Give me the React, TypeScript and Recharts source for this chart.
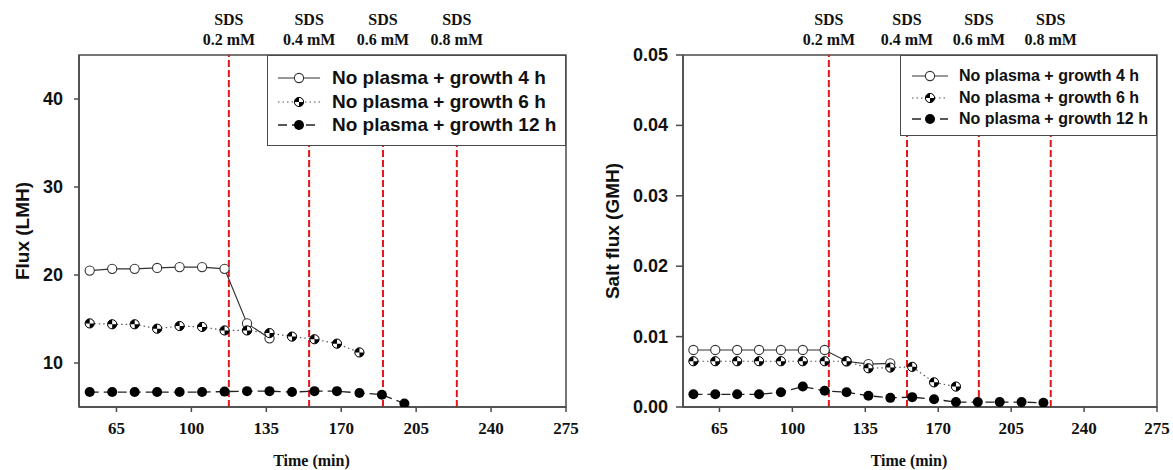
import React from "react";
import { LineChart, Line, XAxis, YAxis, ReferenceLine, ReferenceArea, Legend, Label } from "recharts";

// sampling times (min), shared by both panels
const times = [52.5, 63, 73.5, 84, 94.5, 105, 115.5, 126, 136.5, 147, 157.5, 168, 178.5, 189, 199.5, 210, 220.5];

// water flux (LMH)
const flux4h = [20.5, 20.7, 20.7, 20.8, 20.9, 20.9, 20.7, 14.5, 12.8];
const flux6h = [14.5, 14.4, 14.4, 13.9, 14.2, 14.1, 13.7, 13.7, 13.4, 13.0, 12.7, 12.2, 11.2];
const flux12h = [6.7, 6.7, 6.7, 6.7, 6.7, 6.7, 6.75, 6.8, 6.8, 6.7, 6.8, 6.8, 6.6, 6.4, 5.4, 3.8];

// salt flux (GMH)
const salt4h = [0.0081, 0.0081, 0.0081, 0.0081, 0.0081, 0.0081, 0.0081, 0.0065, 0.0061, 0.0062];
const salt6h = [0.0065, 0.0065, 0.0065, 0.0065, 0.0065, 0.0065, 0.0065, 0.0065, 0.0055, 0.0056, 0.0057, 0.0035, 0.0029];
const salt12h = [0.0018, 0.0018, 0.0018, 0.0018, 0.0021, 0.0029, 0.0023, 0.0021, 0.0016, 0.0013, 0.0014, 0.0011, 0.0007, 0.0007, 0.0007, 0.0007, 0.0006];

const sdsTimes = [117.5, 155, 189.5, 224];
const sdsLabels = ["0.2 mM", "0.4 mM", "0.6 mM", "0.8 mM"];
const xTicks = [65, 100, 135, 170, 205, 240, 275];
const fluxTicks = [10, 20, 30, 40];
const saltTicks = [0, 0.01, 0.02, 0.03, 0.04, 0.05];
const seriesNames = ["No plasma + growth 4 h", "No plasma + growth 6 h", "No plasma + growth 12 h"];

const SANS = "'Liberation Sans', Arial, sans-serif";
const SERIF = "'Liberation Serif', 'Times New Roman', serif";
const FRAME = "#4a4a4a";
const RED = "#e8141b";

const buildRows = (a: number[], b: number[], c: number[]) =>
  times.map((t, i) => ({ t, a: a[i], b: b[i], c: c[i] }));

const fluxRows = buildRows(flux4h, flux6h, flux12h);
const saltRows = buildRows(salt4h, salt6h, salt12h);

const lineStyles = [
  { key: "a", stroke: "#333", dash: undefined, width: 1.2, marker: "open" },
  { key: "b", stroke: "#555", dash: "1.5 3", width: 1.2, marker: "checker" },
  { key: "c", stroke: "#222", dash: "9 5", width: 1.3, marker: "filled" },
];

function Marker({ cx, cy, kind, r = 4.6 }: any) {
  if (cx == null || cy == null) return <g />;
  if (kind === "open")
    return <circle cx={cx} cy={cy} r={r} fill="#fff" stroke="#333" strokeWidth={1.1} />;
  if (kind === "filled") return <circle cx={cx} cy={cy} r={r + 0.4} fill="#000" />;
  return (
    <g>
      <circle cx={cx} cy={cy} r={r} fill="#000" />
      <path d={`M${cx},${cy} L${cx},${cy - r} A${r},${r} 0 0 1 ${cx + r},${cy} Z`} fill="#fff" />
      <path d={`M${cx},${cy} L${cx},${cy + r} A${r},${r} 0 0 1 ${cx - r},${cy} Z`} fill="#fff" />
      <circle cx={cx} cy={cy} r={r} fill="none" stroke="#000" strokeWidth={1} />
    </g>
  );
}

function XTick({ x, y, payload }: any) {
  return (
    <text x={x} y={y + 14} textAnchor="middle" dominantBaseline="central"
      fontFamily={SERIF} fontWeight="bold" fontSize={17} fill="#111">
      {payload.value}
    </text>
  );
}

function makeYTick(dx: number, fmt: (v: number) => string, size: number) {
  return ({ x, y, payload }: any) => (
    <text x={x + dx} y={y} textAnchor="end" dominantBaseline="central"
      fontFamily={SANS} fontWeight="bold" fontSize={size} fill="#111">
      {fmt(payload.value)}
    </text>
  );
}

function SdsLabel({ viewBox, text }: any) {
  const x = viewBox.x;
  const y = viewBox.y;
  return (
    <g fontFamily={SERIF} fontWeight="bold" fontSize={16} fill="#111" textAnchor="middle">
      <text x={x} y={y - 30}>SDS</text>
      <text x={x} y={y - 10}>{text}</text>
    </g>
  );
}

function LegendBox({ fontSize, first, step, symEnd, markX, textX }: any) {
  return (
    <div style={{ position: "relative", width: "100%", height: "100%", boxSizing: "border-box",
      border: `1.5px solid ${FRAME}`, background: "#fff" }}>
      {seriesNames.map((name, i) => {
        const s = lineStyles[i];
        const cy = first + i * step;
        return (
          <div key={name} style={{ position: "absolute", left: 0, top: cy - 12, height: 24, width: "100%" }}>
            <svg width={symEnd + 2} height={24} style={{ position: "absolute", left: 0, top: 0 }}>
              <line x1={symEnd - 2 * (symEnd - markX)} x2={symEnd} y1={12} y2={12}
                stroke={s.stroke} strokeWidth={s.width} strokeDasharray={s.dash} />
              <Marker cx={markX} cy={12} kind={s.marker} />
            </svg>
            <span style={{ position: "absolute", left: textX, top: 0, lineHeight: "24px",
              fontFamily: SANS, fontWeight: "bold", fontSize, color: "#111", whiteSpace: "nowrap" }}>
              {name}
            </span>
          </div>
        );
      })}
    </div>
  );
}

function Panel({ data, width, margin, yAxisWidth, yDomain, yTicks, yTick, yTickSize, yLabel, yLabelDx,
  legendStyle, legendProps, clip }: any) {
  return (
    <LineChart width={width} height={470} data={data} margin={margin}>
      <XAxis dataKey="t" type="number" domain={[47.5, 275]} ticks={xTicks} height={40}
        allowDataOverflow tick={<XTick />} tickSize={5} stroke={FRAME} strokeWidth={1.5}>
        <Label content={({ viewBox }: any) => (
          <text x={viewBox.x + viewBox.width / 2 - 11} y={460} textAnchor="middle" dominantBaseline="central"
            fontFamily={SERIF} fontWeight="bold" fontSize={16} fill="#111">Time (min)</text>
        )} />
      </XAxis>
      <YAxis type="number" domain={yDomain} ticks={yTicks} width={yAxisWidth} allowDataOverflow={clip}
        tick={yTick} tickSize={yTickSize} stroke={FRAME} strokeWidth={1.5}>
        <Label content={({ viewBox }: any) => {
          const x = viewBox.x + yLabelDx;
          const y = viewBox.y + viewBox.height / 2;
          return (
            <text x={x} y={y} transform={`rotate(-90 ${x} ${y})`} textAnchor="middle" dominantBaseline="central"
              fontFamily={SANS} fontWeight="bold" fontSize={19} fill="#111">{yLabel}</text>
          );
        }} />
      </YAxis>
      <ReferenceArea x1={47.5} x2={275} y1={yDomain[0]} y2={yDomain[1]} fill="none" fillOpacity={0}
        stroke={FRAME} strokeWidth={1.5} />
      {sdsTimes.map((t, i) => (
        <ReferenceLine key={t} x={t} stroke={RED} strokeWidth={2} strokeDasharray="7 3"
          label={<SdsLabel text={sdsLabels[i]} />} />
      ))}
      {lineStyles.map((s, i) => (
        <Line key={s.key} dataKey={s.key} name={seriesNames[i]} type="linear" stroke={s.stroke}
          strokeWidth={s.width} strokeDasharray={s.dash} isAnimationActive={false}
          dot={(p: any) => <Marker key={`${s.key}-${p.index}`} cx={p.cx} cy={p.cy} kind={s.marker} />}
          activeDot={false} />
      ))}
      <Legend layout="vertical" align="center" verticalAlign="middle" wrapperStyle={legendStyle}
        content={() => <LegendBox {...legendProps} />} />
    </LineChart>
  );
}

export default function App() {
  return (
    <div style={{ position: "absolute", left: 0, top: 0, width: 1173, height: 470, background: "#fff" }}>
      <div style={{ position: "absolute", left: 0, top: 0 }}>
        <Panel data={fluxRows} width={590} margin={{ top: 55, right: 24, bottom: 23, left: 19 }}
          yAxisWidth={60} yDomain={[5, 45]} yTicks={fluxTicks} yTickSize={5}
          yTick={makeYTick(-9, (v) => String(v), 18)} yLabel="Flux (LMH)" yLabelDx={3} clip
          legendStyle={{ position: "absolute", left: 267, top: 55, width: 299, height: 91 }}
          legendProps={{ fontSize: 19, first: 22, step: 23.5, symEnd: 52, markX: 31, textX: 64 }} />
      </div>
      <div style={{ position: "absolute", left: 590, top: 0 }}>
        <Panel data={saltRows} width={583} margin={{ top: 55, right: 16, bottom: 23, left: 23 }}
          yAxisWidth={70} yDomain={[0, 0.05]} yTicks={saltTicks} yTickSize={7}
          yTick={makeYTick(-6, (v) => v.toFixed(2), 18)} yLabel="Salt flux (GMH)" yLabelDx={-1} clip
          legendStyle={{ position: "absolute", left: 310, top: 55, width: 257, height: 81 }}
          legendProps={{ fontSize: 16, first: 20, step: 21.7, symEnd: 47, markX: 29, textX: 58 }} />
      </div>
    </div>
  );
}
